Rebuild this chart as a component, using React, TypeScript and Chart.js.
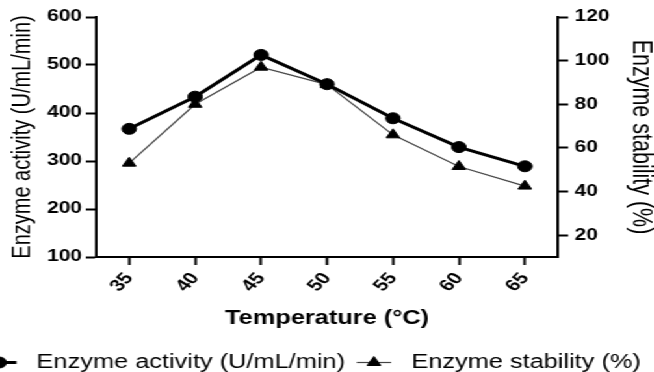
import React, { useEffect, useRef } from 'react';
import { Chart, registerables } from 'chart.js';

Chart.register(...registerables);

// ---- data ----
const temperatures = ['35', '40', '45', '50', '55', '60', '65'];
const enzymeActivity = [367, 434, 521, 460, 389, 329, 289];
const enzymeStability = [53, 80, 97, 89, 66, 51.5, 42.5];
const activityTicks = [100, 200, 300, 400, 500, 600];
const stabilityTicks = [20, 40, 60, 80, 100, 120];

// ---- layout ----
const SCALE_X = 1.3;
const W = 654 / SCALE_X;
const H = 372;
const FONT = '"Liberation Sans", Arial, Helvetica, sans-serif';

function drawMarker(ctx: CanvasRenderingContext2D, style: string, x: number, y: number, r: number, color: string) {
  ctx.save();
  ctx.fillStyle = color;
  ctx.strokeStyle = color;
  ctx.lineWidth = 1;
  ctx.beginPath();
  if (style === 'triangle') {
    let rad = 0;
    ctx.moveTo(x + Math.sin(rad) * r, y - Math.cos(rad) * r);
    rad += (2 * Math.PI) / 3;
    ctx.lineTo(x + Math.sin(rad) * r, y - Math.cos(rad) * r);
    rad += (2 * Math.PI) / 3;
    ctx.lineTo(x + Math.sin(rad) * r, y - Math.cos(rad) * r);
    ctx.closePath();
  } else {
    ctx.arc(x, y, r, 0, Math.PI * 2);
  }
  ctx.fill();
  ctx.stroke();
  ctx.restore();
}

const lineLegend = {
  id: 'lineLegend',
  afterDraw(chart: any) {
    const ctx: CanvasRenderingContext2D = chart.ctx;
    ctx.save();
    ctx.font = `19.5px ${FONT}`;
    ctx.textAlign = 'left';
    ctx.textBaseline = 'alphabetic';
    const sampleW = 26.5;
    const textGap = 15.5;
    const itemGap = 9;
    const ds = chart.data.datasets;
    const widths = ds.map((d: any) => ctx.measureText(d.label).width);
    const total =
      widths.reduce((a: number, w: number) => a + sampleW + textGap + w, 0) + itemGap * (ds.length - 1);
    let x = (chart.width - total) / 2 - 12;
    const lineY = chart.height - 9.5;
    const textY = chart.height - 4;
    ds.forEach((d: any, i: number) => {
      ctx.strokeStyle = d.borderColor;
      ctx.lineWidth = d.borderWidth;
      ctx.beginPath();
      ctx.moveTo(x, lineY);
      ctx.lineTo(x + sampleW, lineY);
      ctx.stroke();
      drawMarker(ctx, d.pointStyle, x + sampleW / 2, lineY, d.pointRadius, d.pointBackgroundColor);
      ctx.fillStyle = '#000';
      ctx.fillText(d.label, x + sampleW + textGap, textY);
      x += sampleW + textGap + widths[i] + itemGap;
    });
    ctx.restore();
  },
};

export default function App() {
  const canvasRef = useRef<HTMLCanvasElement | null>(null);

  useEffect(() => {
    if (!canvasRef.current) return;
    const yTickFont = { family: FONT, size: 16, weight: 'bold' as const };
    const xTickFont = { family: FONT, size: 16.5, weight: 'bold' as const };
    const chart = new Chart(canvasRef.current, {
      type: 'line',
      data: {
        labels: temperatures,
        datasets: [
          {
            label: 'Enzyme activity (U/mL/min)',
            data: enzymeActivity,
            yAxisID: 'y',
            borderColor: '#000',
            borderWidth: 3,
            pointStyle: 'circle',
            pointRadius: 5.5,
            pointBackgroundColor: '#000',
            pointBorderColor: '#000',
            pointBorderWidth: 1,
            tension: 0,
          },
          {
            label: 'Enzyme stability (%)',
            data: enzymeStability,
            yAxisID: 'y1',
            borderColor: '#444',
            borderWidth: 1.2,
            pointStyle: 'triangle',
            pointRadius: 6,
            pointBackgroundColor: '#000',
            pointBorderColor: '#000',
            pointBorderWidth: 1,
            tension: 0,
          },
        ],
      },
      options: {
        animation: false,
        responsive: true,
        maintainAspectRatio: false,
        layout: { padding: { top: 17, bottom: 42, left: 0, right: 0 } },
        plugins: {
          legend: { display: false },
          tooltip: { enabled: false },
        },
        scales: {
          x: {
            type: 'category',
            offset: true,
            grid: {
              offset: false,
              drawOnChartArea: false,
              drawTicks: true,
              tickLength: 8,
              tickWidth: 2,
              tickColor: '#000',
            },
            border: { display: true, color: '#000', width: 2 },
            ticks: {
              color: '#000',
              font: xTickFont,
              minRotation: 52,
              maxRotation: 52,
              padding: 4,
              autoSkip: false,
            },
            title: {
              display: true,
              text: 'Temperature (°C)',
              color: '#000',
              font: { family: FONT, size: 19.5, weight: 'bold' },
              padding: { top: 4, bottom: 0 },
            },
            afterFit: (s: any) => {
              s.height = 73;
            },
          },
          y: {
            type: 'linear',
            position: 'left',
            min: 100,
            max: 600,
            afterBuildTicks: (s: any) => {
              s.ticks = activityTicks.map((v) => ({ value: v }));
            },
            grid: {
              drawOnChartArea: false,
              drawTicks: true,
              tickLength: 8,
              tickWidth: 2,
              tickColor: '#000',
            },
            border: { display: true, color: '#000', width: 2 },
            ticks: { color: '#000', font: yTickFont, padding: 3 },
            title: {
              display: true,
              text: 'Enzyme activity (U/mL/min)',
              color: '#000',
              font: { family: FONT, size: 20 },
              padding: { top: 5, bottom: 0 },
            },
            afterFit: (s: any) => {
              s.width = 74;
            },
          },
          y1: {
            type: 'linear',
            position: 'right',
            min: 10,
            max: 120,
            afterBuildTicks: (s: any) => {
              s.ticks = stabilityTicks.map((v) => ({ value: v }));
            },
            grid: {
              drawOnChartArea: false,
              drawTicks: true,
              tickLength: 8,
              tickWidth: 2,
              tickColor: '#000',
            },
            border: { display: true, color: '#000', width: 2 },
            ticks: { color: '#000', font: yTickFont, padding: 5 },
            title: {
              display: true,
              text: 'Enzyme stability (%)',
              color: '#000',
              font: { family: FONT, size: 21.5 },
              padding: { top: -3, bottom: 0 },
            },
            afterFit: (s: any) => {
              s.width = 74;
            },
          },
        },
      },
      plugins: [lineLegend],
    });
    return () => chart.destroy();
  }, []);

  return (
    <div
      style={{
        position: 'absolute',
        left: 0,
        top: 0,
        width: W,
        height: H,
        transform: `scaleX(${SCALE_X})`,
        transformOrigin: '0 0',
        background: '#fff',
      }}
    >
      <canvas ref={canvasRef} />
    </div>
  );
}
